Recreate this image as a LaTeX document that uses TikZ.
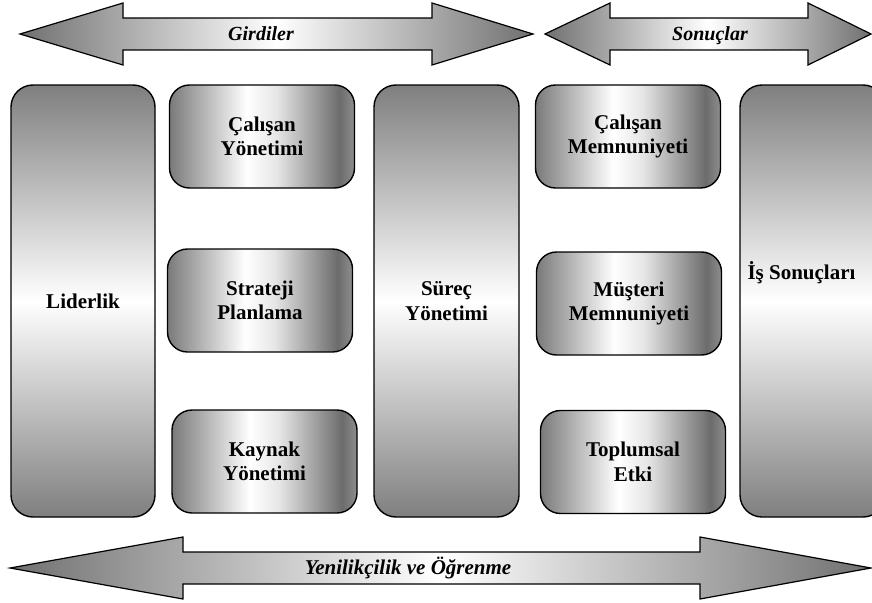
\documentclass[tikz,border=0pt]{standalone}
\usepackage{fontspec}
\setmainfont{Liberation Serif}

\definecolor{colgray}{RGB}{127,127,127}
\definecolor{boxgray}{RGB}{122,122,122}
\definecolor{boxdark}{RGB}{108,108,108}
\definecolor{arrgray}{RGB}{112,112,112}
\pgfdeclarehorizontalshading{metal}{100bp}{color(0bp)=(boxgray);
  color(25bp)=(boxgray); color(46bp)=(white); color(54bp)=(white!90!black);
  color(71bp)=(boxdark); color(75bp)=(boxgray!85!white);
  color(100bp)=(boxgray!85!white)}

\begin{document}
\begin{tikzpicture}[x=1pt, y=-1pt,
    colbox/.style={draw, line width=1.4pt, rounded corners=22pt,
                   minimum width=144pt, minimum height=432pt, inner sep=0pt,
                   top color=colgray, bottom color=colgray, middle color=white,
                   font=\fontsize{21}{24.5}\selectfont\bfseries, align=center},
    smallbox/.style={draw, line width=1.4pt, rounded corners=20pt,
                     minimum width=185pt, minimum height=103pt, inner sep=0pt,
                     shade, shading=metal,
                     font=\fontsize{21}{24.5}\selectfont\bfseries, align=center},
    bigarrow/.style={draw, line width=1.2pt, line join=miter,
                     left color=arrgray, right color=arrgray, middle color=white},
    arrlabel/.style={anchor=base, font=\fontsize{20}{24}\selectfont\bfseries\itshape},
]

    \useasboundingbox (0,0) rectangle (872,602);
    \clip (0,0) rectangle (872,602);

    \path[bigarrow] (20,34) -- (123,3) -- (123,18) -- (432,18) -- (432,3)
        -- (533,34) -- (432,65) -- (432,50) -- (123,50) -- (123,65) -- cycle;
    \node[arrlabel] (girdi) at (261,41) {Girdiler};

    \path[bigarrow] (545,34) -- (610,3) -- (610,18) -- (808,18) -- (808,3)
        -- (871,34) -- (808,65) -- (808,50) -- (610,50) -- (610,65) -- cycle;
    \node[arrlabel] (sonucar) at (710,41) {Sonuçlar};

    \node[colbox] (lider) at (83,301) {Liderlik};
    \node[smallbox] (calyon) at (262,136.5) {Çalışan\\Yönetimi};
    \node[smallbox] (strateji) at (260,300.5) {Strateji\\Planlama};
    \node[smallbox] (kaynak) at (264.5,461.5) {Kaynak\\Yönetimi};
    \node[colbox, minimum width=145pt] (surec) at (446.5,301) {Süreç\\Yönetimi};
    \node[smallbox] (calmem) at (628,136.5) {Çalışan\\Memnuniyeti};
    \node[smallbox] (musteri) at (629,303.5) {Müşteri\\Memnuniyeti};
    \node[smallbox] (toplum) at (633,462) {Toplumsal\\Etki};
    \node[colbox, minimum width=145pt] (issonuc) at (812.5,301) {};
    \node[font=\fontsize{21}{24.5}\selectfont\bfseries, anchor=west] (istext)
        at (744,273) {İş Sonuçları};

    \path[bigarrow] (10,568) -- (183,537) -- (183,552) -- (700,552) -- (700,537)
        -- (871,568) -- (700,599) -- (700,584) -- (183,584) -- (183,599) -- cycle;
    \node[arrlabel, font=\fontsize{21}{24}\selectfont\bfseries\itshape] (yenilik)
        at (408,574) {Yenilikçilik ve Öğrenme};

\end{tikzpicture}
\end{document}
